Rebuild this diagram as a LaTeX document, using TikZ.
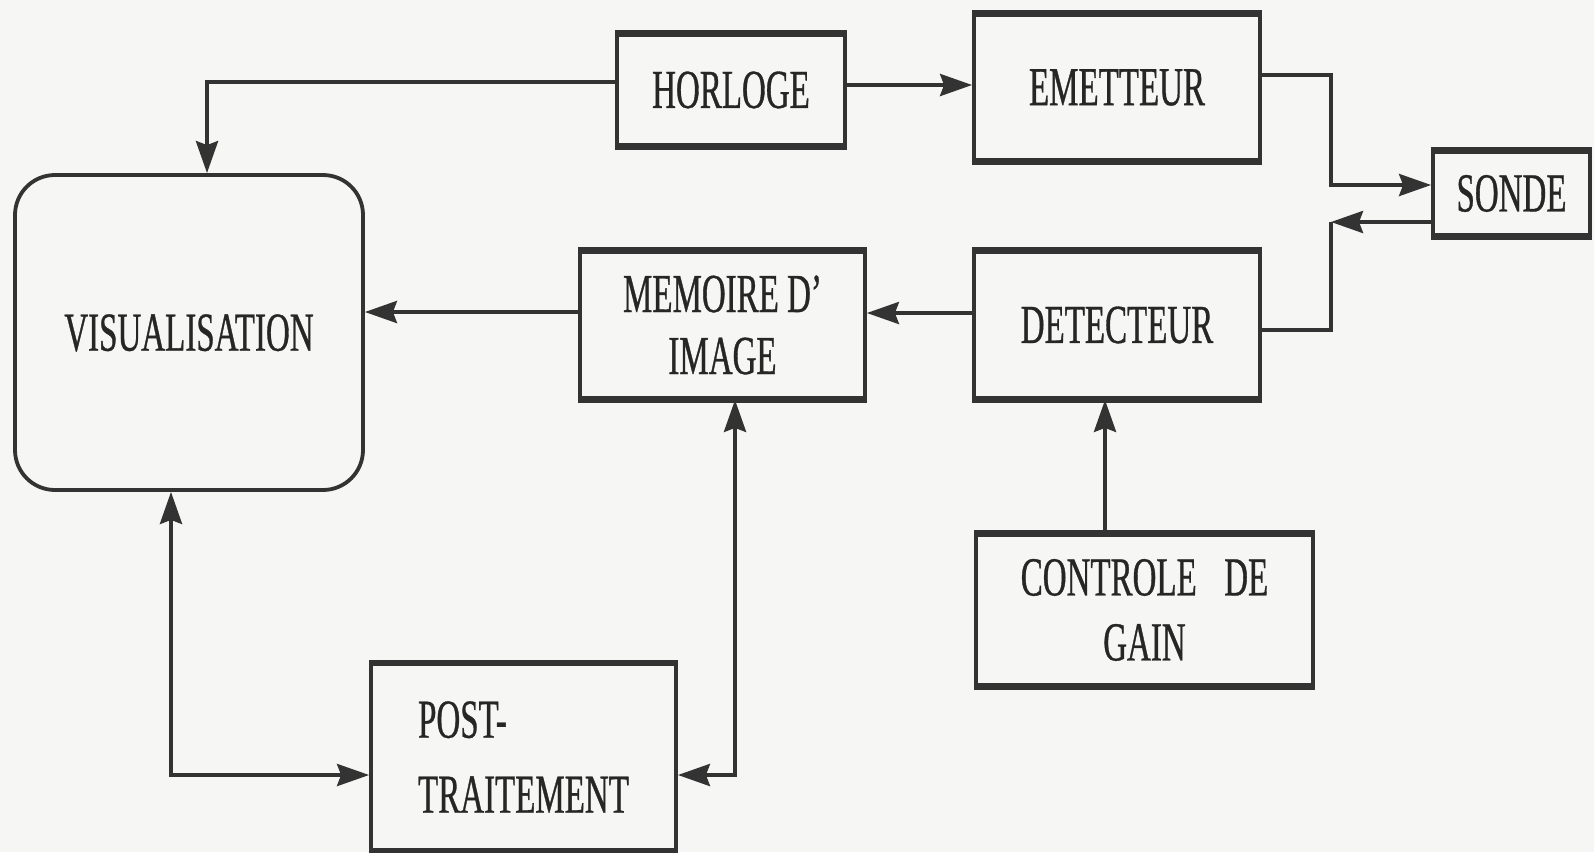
\documentclass[tikz,border=0pt]{standalone}
\usepackage{fontspec}
\setmainfont{Liberation Serif}
\newfontfamily\cond[FakeStretch=0.6,FakeBold=0.6]{Liberation Serif}
\usetikzlibrary{arrows.meta}
\definecolor{ink}{HTML}{333333}
\definecolor{txt}{HTML}{262626}
\definecolor{paper}{HTML}{F6F6F4}
\tikzset{
  blk/.style={draw=ink, line width=3.8pt, inner sep=0pt, text=txt,
    font=\cond\fontsize{55}{62}\selectfont, align=center},
  conn/.style={draw=ink, line width=4pt},
  tip/.tip={Stealth[length=32pt,width=22pt,inset=4pt]},
  arr/.style={conn, -tip},
  dbl/.style={conn, tip-tip},
}
\begin{document}
\begin{tikzpicture}[x=1pt,y=-1pt]
\fill[paper] (0,0) rectangle (1594,852);
\useasboundingbox (0,0) rectangle (1594,852);

\node[blk, minimum width=228pt, minimum height=110pt] (hor) at (731,90) {HORLOGE};
\node[blk, minimum width=286pt, minimum height=145pt] (emt) at (1117,87.5) {EMETTEUR};
\node[blk, minimum width=157pt, minimum height=83pt] (sonde) at (1511.5,193.5) {SONDE};
\node[blk, minimum width=348pt, minimum height=315pt, rounded corners=40pt, text depth=-6pt] (vis) at (189,332.5) {VISUALISATION};
\node[blk, minimum width=285pt, minimum height=146pt] (mem) at (722.5,325) {MEMOIRE D’\\IMAGE};
\node[blk, minimum width=286pt, minimum height=146pt] (det) at (1117,325) {DETECTEUR};
\node[blk, minimum width=337pt, minimum height=150pt, font=\cond\fontsize{55}{65}\selectfont] (ctl) at (1144.5,610) {CONTROLE\enspace DE\\GAIN};
\node[blk, minimum width=305pt, minimum height=185pt, align=left, font=\cond\fontsize{55}{75}\selectfont] (post) at (523.5,757) {POST-\\TRAITEMENT};

\foreach \n in {hor,emt,sonde,mem,det,ctl,post}
  \draw[ink, line width=6pt] (\n.north west) -- (\n.north east) (\n.south west) -- (\n.south east);

\coordinate (bus) at (1331,0);

\draw[arr] (hor.west |- 0,82) -| (vis.north -| 207,0);
\draw[arr] (hor.east |- 0,85) -- (emt.west |- 0,85);
\draw[arr] (emt.east |- 0,75) -| (bus |- 0,185) -- (sonde.west |- 0,185);
\draw[arr] (sonde.west |- 0,222) -- (bus |- 0,222);
\draw[conn] (bus |- 0,222) |- (det.east |- 0,330);
\draw[arr] (det.west |- 0,313) -- (mem.east |- 0,313);
\draw[arr] (mem.west |- 0,312) -- (vis.east |- 0,312);
\draw[arr] (ctl.north -| 1105,0) -- (det.south -| 1105,0);
\draw[dbl] (vis.south -| 171,0) |- (post.west |- 0,775);
\draw[dbl] (mem.south -| 735,0) |- (post.east |- 0,775);
\end{tikzpicture}
\end{document}
